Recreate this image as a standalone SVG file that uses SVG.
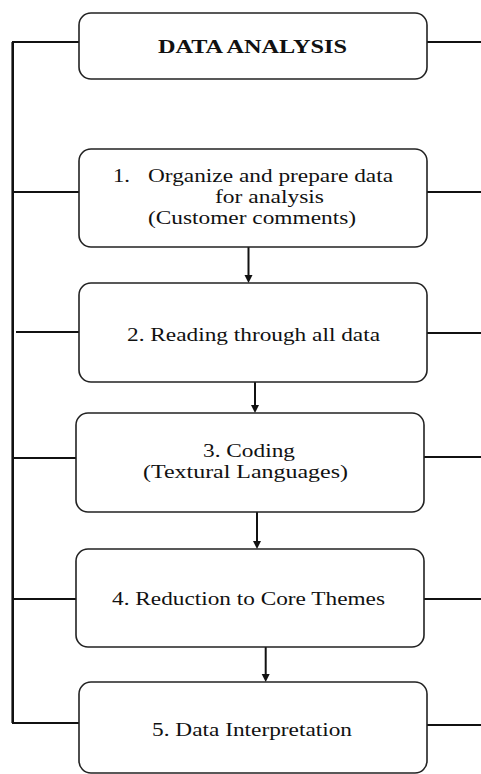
<svg xmlns="http://www.w3.org/2000/svg" width="481" height="774" viewBox="0 0 481 774">
<style>
.box{fill:#fff;stroke:#222;stroke-width:1.6}
text{font-family:'Liberation Serif','DejaVu Serif',serif;font-size:19px;fill:#111}
.m{font-size:18.5px}
.b{font-weight:bold}
.ln{fill:none;stroke:#111;stroke-width:1.8}
.vl{fill:none;stroke:#111;stroke-width:2.6}
.ar{fill:none;stroke:#111;stroke-width:2}
.hd{fill:#111}
</style>
<g id="connectors">
<path class="vl" d="M12.7,42 V723"/>
<path class="ln" d="M12,42 H79 M12,192 H79 M16,332 H79 M12,458 H76 M12,599 H76 M12,723 H79"/>
<path class="ln" d="M427,42 H481 M427,192 H481 M427,333 H481 M424,457 H481 M424,599 H481 M427,725 H481"/>
<path class="ar" d="M248.5,247 V275"/>
<path class="hd" d="M244.5,275 L252.5,275 L248.5,283 Z"/>
<path class="ar" d="M255,382 V405"/>
<path class="hd" d="M251,405 L259,405 L255,413 Z"/>
<path class="ar" d="M257,512 V541"/>
<path class="hd" d="M253,541 L261,541 L257,549 Z"/>
<path class="ar" d="M265.7,647 V674"/>
<path class="hd" d="M261.7,674 L269.7,674 L265.7,682 Z"/>
</g>
<g id="node0">
<rect class="box" x="79" y="13" width="348" height="66" rx="12"/>
<text class="b" x="158" y="53" textLength="189" lengthAdjust="spacingAndGlyphs">DATA ANALYSIS</text>
</g>
<g id="node1">
<rect class="box" x="79" y="149" width="348" height="98" rx="12"/>
<text class="m" x="113" y="182" textLength="17" lengthAdjust="spacingAndGlyphs">1.</text>
<text class="m" x="148" y="182" textLength="245" lengthAdjust="spacingAndGlyphs">Organize and prepare data</text>
<text class="m" x="215" y="203" textLength="109" lengthAdjust="spacingAndGlyphs">for analysis</text>
<text class="m" x="148" y="224" textLength="208" lengthAdjust="spacingAndGlyphs">(Customer comments)</text>
</g>
<g id="node2">
<rect class="box" x="79" y="283" width="348" height="99" rx="12"/>
<text x="127" y="341" textLength="253" lengthAdjust="spacingAndGlyphs">2. Reading through all data</text>
</g>
<g id="node3">
<rect class="box" x="76" y="413" width="348" height="99" rx="12"/>
<text class="m" x="203" y="457" textLength="92" lengthAdjust="spacingAndGlyphs">3. Coding</text>
<text class="m" x="143" y="478" textLength="205" lengthAdjust="spacingAndGlyphs">(Textural Languages)</text>
</g>
<g id="node4">
<rect class="box" x="76" y="549" width="348" height="98" rx="12"/>
<text x="112" y="605" textLength="273" lengthAdjust="spacingAndGlyphs">4. Reduction to Core Themes</text>
</g>
<g id="node5">
<rect class="box" x="79" y="682" width="348" height="91" rx="12"/>
<text x="152" y="736" textLength="200" lengthAdjust="spacingAndGlyphs">5. Data Interpretation</text>
</g>
</svg>
